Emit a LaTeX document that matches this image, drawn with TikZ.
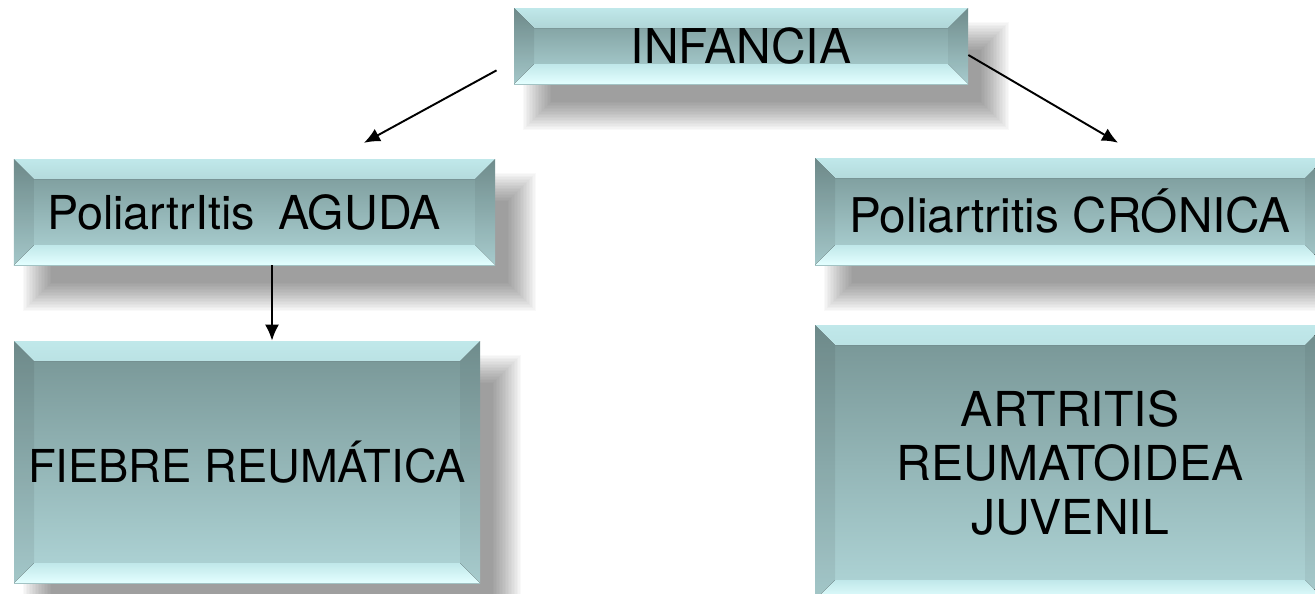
\documentclass[tikz,border=0pt]{standalone}
\usepackage{fontspec}
\setmainfont{TeX Gyre Heros}
\usetikzlibrary{positioning,arrows.meta,backgrounds}
\usepackage{xcolor}

\definecolor{bvtop}{RGB}{118,148,148}
\definecolor{bvbottom}{RGB}{176,214,216}
\definecolor{bvhigh}{RGB}{192,232,234}
\definecolor{bvmid}{RGB}{128,160,161}
\definecolor{bvlow}{RGB}{192,232,234}
\definecolor{bvwhite}{RGB}{228,255,255}

% soft drop shadow behind a named box
\newcommand{\boxshade}[1]{%
  \foreach \r in {0.32,0.29,...,-0.26} {
    \fill[black, opacity=0.024] ([xshift={(0.5-\r)*1cm}, yshift={(-0.6+\r)*1cm}]#1.north west) rectangle ([xshift={(0.5+\r)*1cm}, yshift={(-0.6-\r)*1cm}]#1.south east);
  }}

\tikzset{
  bevelbox/.style={rectangle, inner sep=0pt, top color=bvtop, bottom color=bvbottom,
    font=\fontsize{25.5}{30.7}\selectfont, align=center,
    path picture={
      % top bevel
      \fill[top color=bvhigh, bottom color=bvmid] (path picture bounding box.north west) -- (path picture bounding box.north east) -- ([xshift=-0.4cm,yshift=-0.4cm]path picture bounding box.north east) -- ([xshift=0.4cm,yshift=-0.4cm]path picture bounding box.north west) -- cycle;
      % bottom bevel
      \fill[top color=bvlow, bottom color=bvwhite] (path picture bounding box.south west) -- (path picture bounding box.south east) -- ([xshift=-0.4cm,yshift=0.4cm]path picture bounding box.south east) -- ([xshift=0.4cm,yshift=0.4cm]path picture bounding box.south west) -- cycle;
      % side bevels
      \fill[black, fill opacity=0.07] (path picture bounding box.north west) -- ([xshift=0.4cm,yshift=-0.4cm]path picture bounding box.north west) -- ([xshift=0.4cm,yshift=0.4cm]path picture bounding box.south west) -- (path picture bounding box.south west) -- cycle;
      \fill[black, fill opacity=0.05] (path picture bounding box.north east) -- ([xshift=-0.4cm,yshift=-0.4cm]path picture bounding box.north east) -- ([xshift=-0.4cm,yshift=0.4cm]path picture bounding box.south east) -- (path picture bounding box.south east) -- cycle;
    }},
  conn/.style={-{Latex[length=0.32cm,width=0.28cm]}, line width=1.1pt}
}

\begin{document}
\begin{tikzpicture}

    \useasboundingbox (0,0) rectangle (26.3,-11.86);

    % Boxes
    \node[bevelbox, minimum width=9.08cm, minimum height=1.52cm, font=\fontsize{27.3}{32}\selectfont] (inf) at (14.82,-0.92) {INFANCIA};
    \node[bevelbox, minimum width=9.62cm, minimum height=2.12cm, text width=8.3cm, inner xsep=0.66cm, align=left, font=\fontsize{26.6}{32}\selectfont] (agu) at (5.09,-4.24) {PoliartrItis\hspace{0.5em}AGUDA};
    \node[bevelbox, minimum width=9.32cm, minimum height=4.84cm, font=\fontsize{25.8}{31}\selectfont] (fie) at (4.94,-9.24) {FIEBRE REUMÁTICA};
    \node[bevelbox, minimum width=10.2cm, minimum height=2.14cm, font=\fontsize{27.2}{32}\selectfont] (cro) at (21.4,-4.23) {Poliartritis CRÓNICA};
    \node[bevelbox, minimum width=10.2cm, minimum height=5.5cm, font=\fontsize{27.4}{30.7}\selectfont] (art) at (21.4,-9.25) {ARTRITIS\\ REUMATOIDEA\\ JUVENIL};

    % Shadows
    \begin{scope}[on background layer]
        \foreach \n in {inf,agu,fie,cro,art} {
            \boxshade{\n}
        }
    \end{scope}

    % Arrows
    \draw[conn, shorten <=0.39cm, shorten >=0.66cm] ([yshift=-0.3cm]inf.west) -- ([xshift=1.61cm]agu.north);
    \draw[conn, shorten >=0.59cm] ([yshift=-0.18cm]inf.east) -- ([xshift=1.47cm]cro.north);
    \draw[conn] ([xshift=0.35cm]agu.south) -- ([xshift=0.35cm]agu.south |- fie.north);

\end{tikzpicture}
\end{document}
